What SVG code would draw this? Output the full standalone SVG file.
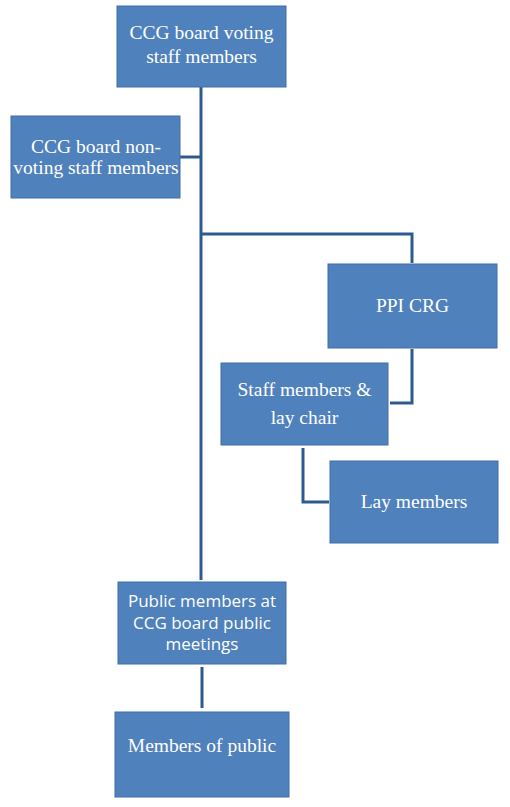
<svg xmlns="http://www.w3.org/2000/svg" width="510" height="807" viewBox="0 0 510 807">
<style>
.box{fill:#4F81BD;stroke:#3F6FA8;stroke-width:1}
.t{font-family:"Liberation Serif","Times New Roman",serif;font-size:19.5px;fill:#fff;text-anchor:middle}
.s{font-family:"Open Sans","Liberation Sans",sans-serif;font-size:17px;fill:#fff;text-anchor:middle}
.c{fill:none;stroke:#2E5B8F;stroke-width:3}
</style>
<rect width="510" height="807" fill="#fff"/>
<g id="connectors">
<path class="c" d="M201,87 V580"/>
<path class="c" d="M180,157 H201"/>
<path class="c" d="M201,234 H412 V263"/>
<path class="c" d="M412,349 V403 H390"/>
<path class="c" d="M303,448 V502 H329"/>
<path class="c" d="M202,667 V708"/>
</g>
<g id="n1"><rect class="box" x="117" y="6" width="169" height="81"/><text class="t" x="201.5" y="39">CCG board voting</text><text class="t" x="201.5" y="63">staff members</text></g>
<g id="n2"><rect class="box" x="11" y="116" width="169" height="82"/><text class="t" x="96" y="153">CCG board non-</text><text class="t" x="96" y="174">voting staff members</text></g>
<g id="n3"><rect class="box" x="328" y="264" width="169" height="84"/><text class="t" x="412.5" y="312">PPI CRG</text></g>
<g id="n4"><rect class="box" x="221" y="363" width="167" height="82"/><text class="t" x="304.5" y="396">Staff members &amp;</text><text class="t" x="304.5" y="424">lay chair</text></g>
<g id="n5"><rect class="box" x="330" y="461" width="168" height="82"/><text class="t" x="414" y="508">Lay members</text></g>
<g id="n6"><rect class="box" x="118" y="582" width="168" height="82"/><text class="s" x="202" y="607">Public members at</text><text class="s" x="202" y="629">CCG board public</text><text class="s" x="202" y="650">meetings</text></g>
<g id="n7"><rect class="box" x="115" y="712" width="174" height="85"/><text class="t" x="202" y="752">Members of public</text></g>
</svg>
